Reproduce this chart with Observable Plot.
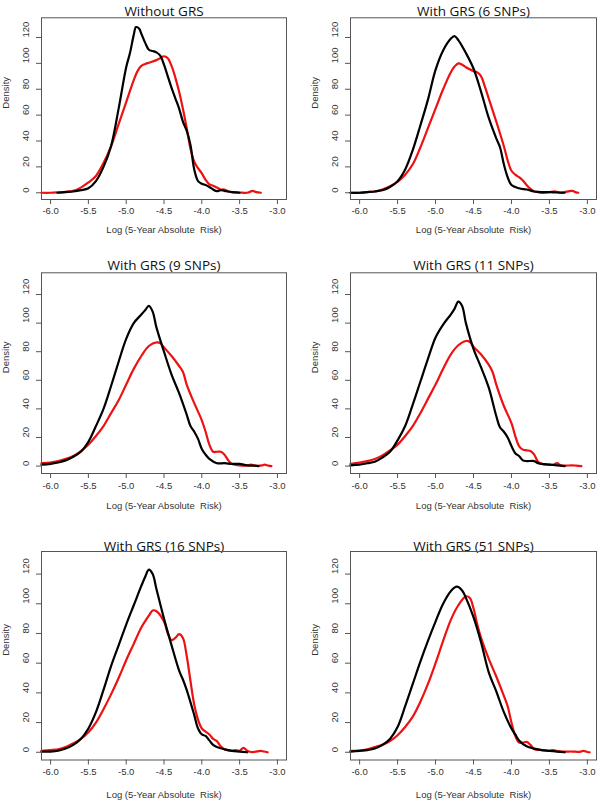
<!DOCTYPE html>
<html>
<head>
<meta charset="utf-8">
<script src="https://cdn.jsdelivr.net/npm/d3@7"></script>
<script src="https://cdn.jsdelivr.net/npm/@observablehq/plot@0.6"></script>
<style>
  html, body { margin: 0; padding: 0; background: #fff; }
  #root { position: relative; width: 600px; height: 802px; background: #fff; overflow: hidden; }
  .panel { position: absolute; }
</style>
</head>
<body>
<div id="root"></div>
<script>
// ---------- Data ----------
const titles = ["Without GRS", "With GRS (6 SNPs)", "With GRS (9 SNPs)", "With GRS (11 SNPs)", "With GRS (16 SNPs)", "With GRS (51 SNPs)"];
const xTicks = [-6.0, -5.5, -5.0, -4.5, -4.0, -3.5, -3.0];
const yTicks = [0, 20, 40, 60, 80, 100, 120];
const xLabel = "Log (5-Year Absolute  Risk)";
const yLabel = "Density";

// Panel 1: Without GRS
const p1BlackX = [-5.91,-5.8,-5.7,-5.6,-5.5,-5.4,-5.3,-5.2,-5.1,-5.0,-4.95,-4.9,-4.87,-4.83,-4.8,-4.75,-4.7,-4.65,-4.6,-4.55,-4.5,-4.45,-4.4,-4.35,-4.3,-4.25,-4.2,-4.15,-4.1,-4.05,-4.0,-3.95,-3.9,-3.85,-3.8,-3.75,-3.7,-3.6,-3.5];
const p1BlackY = [0,0.5,1,2,3.5,9,20,36,65,97,108,122,128,127,123,116,110.5,109.5,108.5,106,99,90,81,73,65,55,48,37,18,9,7,6,4.5,2.5,1.2,2,1.5,0.5,0];
const p1RedX = [-6.12,-6.0,-5.9,-5.8,-5.7,-5.6,-5.5,-5.4,-5.3,-5.2,-5.1,-5.0,-4.9,-4.85,-4.8,-4.75,-4.7,-4.6,-4.55,-4.5,-4.45,-4.4,-4.35,-4.3,-4.25,-4.2,-4.15,-4.1,-4.05,-4.0,-3.95,-3.9,-3.85,-3.8,-3.75,-3.7,-3.65,-3.6,-3.5,-3.4,-3.37,-3.33,-3.28,-3.22];
const p1RedY = [0,0,0.3,0.7,1.5,4,8,13,23,36,53,70,87,94,98,99.5,100.5,102.5,104,105.5,104,98,89,78,65,50,34,24,19,15,10,6.5,5.5,4,2.5,2.5,1,0.5,0.2,0,0.5,1.5,0.5,0];

// Panel 2: With GRS (6 SNPs)
const p2BlackX = [-6.12,-6.0,-5.9,-5.8,-5.7,-5.6,-5.5,-5.4,-5.3,-5.2,-5.1,-5.0,-4.9,-4.8,-4.75,-4.7,-4.6,-4.5,-4.4,-4.3,-4.2,-4.15,-4.1,-4.05,-4.0,-3.9,-3.8,-3.7,-3.6,-3.5,-3.4,-3.3];
const p2BlackY = [0,0,0.5,1,2,4.5,9,18,33,52,72,95,110,119,121,118,108,96,78,58,42,35,22,12,6,3.5,2.5,1,0.5,0.5,0.2,0];
const p2RedX = [-6.12,-6.0,-5.9,-5.8,-5.7,-5.6,-5.5,-5.4,-5.3,-5.2,-5.1,-5.0,-4.9,-4.8,-4.75,-4.7,-4.65,-4.6,-4.5,-4.45,-4.4,-4.35,-4.3,-4.2,-4.1,-4.05,-4.0,-3.95,-3.9,-3.85,-3.8,-3.75,-3.7,-3.65,-3.6,-3.5,-3.45,-3.4,-3.35,-3.3,-3.2,-3.15,-3.12];
const p2RedY = [0,0,0.5,1,2.5,5,8.5,14,22,35,50,65,80,93,97.5,100,99,97,94,93,90,82,73,55,36,25,17,14,12,9.5,6,3,1,0.5,0,0.5,1,0.8,0,0.5,1.5,0.3,0];

// Panel 3: With GRS (9 SNPs)
const p3BlackX = [-6.12,-6.0,-5.9,-5.8,-5.7,-5.6,-5.5,-5.4,-5.3,-5.2,-5.1,-5.0,-4.9,-4.8,-4.75,-4.7,-4.65,-4.6,-4.5,-4.4,-4.3,-4.2,-4.15,-4.1,-4.05,-4.0,-3.95,-3.9,-3.8,-3.7,-3.6,-3.5,-3.4,-3.3,-3.25];
const p3BlackY = [1,1.5,2.5,4,6.5,10,17,28,40,56,73,89,100,106,109,112,108,97,80,64,51,36,28,24,19,12,8,5,2,2,1.5,1.5,0.5,0.3,0];
const p3RedX = [-6.12,-6.0,-5.9,-5.8,-5.7,-5.6,-5.5,-5.4,-5.3,-5.2,-5.1,-5.0,-4.9,-4.8,-4.7,-4.6,-4.55,-4.5,-4.4,-4.3,-4.25,-4.2,-4.1,-4.0,-3.95,-3.9,-3.85,-3.8,-3.75,-3.7,-3.65,-3.6,-3.5,-3.4,-3.35,-3.3,-3.2,-3.17,-3.12,-3.08];
const p3RedY = [2,2.5,3.5,5,7,10.5,15,21,28,37,46,57,68,77,84,86.5,86,83,77,70,66,57,44,32,24,15,10,10,10,8,4,1.5,0.5,0.5,1,0.3,0.5,1,0.3,0];

// Panel 4: With GRS (11 SNPs)
const p4BlackX = [-6.12,-6.0,-5.9,-5.8,-5.7,-5.6,-5.5,-5.4,-5.3,-5.2,-5.1,-5.0,-4.9,-4.8,-4.75,-4.7,-4.65,-4.6,-4.5,-4.4,-4.3,-4.2,-4.15,-4.1,-4.05,-4.0,-3.95,-3.9,-3.85,-3.8,-3.7,-3.65,-3.6,-3.5,-3.4,-3.3];
const p4BlackY = [0.5,1,2,3,6,10,18,28,43,59,75,90,99,106,110,115,112,100,82,69,55,35,27,24,20,14,9,7,4,3.5,3.5,2,1.5,1,0.5,0];
const p4RedX = [-6.12,-6.0,-5.9,-5.8,-5.7,-5.6,-5.5,-5.4,-5.3,-5.2,-5.1,-5.0,-4.9,-4.8,-4.7,-4.6,-4.55,-4.5,-4.4,-4.3,-4.25,-4.2,-4.1,-4.0,-3.95,-3.9,-3.85,-3.8,-3.75,-3.7,-3.65,-3.6,-3.5,-3.45,-3.4,-3.35,-3.3,-3.2,-3.15,-3.08];
const p4RedY = [1.5,2.5,3.5,5,7.5,11,15,21,28,37,47,57,68,78,84.5,87.5,87,83.5,78,71,66,57,42,30,21,14,11.5,11,10.5,8,3,1.5,1,1,2,0.5,0.3,0.5,0.3,0];

// Panel 5: With GRS (16 SNPs)
const p5BlackX = [-6.12,-6.0,-5.9,-5.8,-5.7,-5.6,-5.5,-5.4,-5.3,-5.2,-5.1,-5.0,-4.9,-4.8,-4.75,-4.7,-4.65,-4.6,-4.5,-4.4,-4.3,-4.25,-4.2,-4.1,-4.05,-4.0,-3.95,-3.9,-3.85,-3.8,-3.7,-3.6,-3.5,-3.4];
const p5BlackY = [0.5,0.5,1,2.5,5,9,16,27,42,58,72,86,99,112,118,123,120,110,90,72,55,49,42,25,16,12,11,8,5,3.5,2,1,0.5,0];
const p5RedX = [-6.12,-6.0,-5.9,-5.8,-5.7,-5.6,-5.5,-5.4,-5.3,-5.2,-5.1,-5.0,-4.9,-4.8,-4.7,-4.65,-4.6,-4.5,-4.45,-4.4,-4.35,-4.3,-4.25,-4.2,-4.15,-4.1,-4.05,-4.0,-3.9,-3.85,-3.8,-3.75,-3.7,-3.6,-3.55,-3.5,-3.45,-3.4,-3.35,-3.3,-3.22,-3.18,-3.13];
const p5RedY = [1,1.5,2,3.5,6,9,13.5,20,29,39,50,62,73,84,92,95.5,95,88,80,75.5,77,79.5,77,65,48,32,22,16,12,9,7.5,4,2,1,1.5,1,3,1,0.2,0.3,1,0.5,0];

// Panel 6: With GRS (51 SNPs)
const p6BlackX = [-6.12,-6.0,-5.9,-5.8,-5.7,-5.6,-5.5,-5.4,-5.3,-5.2,-5.1,-5.0,-4.9,-4.8,-4.72,-4.65,-4.6,-4.5,-4.4,-4.3,-4.2,-4.1,-4.0,-3.95,-3.9,-3.8,-3.7,-3.6,-3.5,-3.4,-3.3];
const p6BlackY = [0.5,1,1.5,2.5,5,9,17,31,46,61,75,88,100,108.5,111.5,109,104,91,74,54,41,27,16,12,8,4,2.5,1.5,1,0.5,0];
const p6RedX = [-6.12,-6.0,-5.9,-5.8,-5.7,-5.6,-5.5,-5.4,-5.3,-5.2,-5.1,-5.0,-4.9,-4.8,-4.7,-4.6,-4.55,-4.5,-4.45,-4.4,-4.3,-4.2,-4.1,-4.05,-4.0,-3.95,-3.9,-3.85,-3.8,-3.75,-3.7,-3.6,-3.5,-3.45,-3.4,-3.3,-3.2,-3.1,-3.05,-3.0,-2.97];
const p6RedY = [1,1.2,2,3.5,5,7.5,11.5,17,24,34,46,60,75,89,99,105,104,97,86,77,63,51,38,31,20,11,6.5,6.5,7,5,2,1.5,1,1.5,0.8,0.5,0.5,0.3,1,0.2,0];

const blackX = [p1BlackX, p2BlackX, p3BlackX, p4BlackX, p5BlackX, p6BlackX];
const blackY = [p1BlackY, p2BlackY, p3BlackY, p4BlackY, p5BlackY, p6BlackY];
const redX = [p1RedX, p2RedX, p3RedX, p4RedX, p5RedX, p6RedX];
const redY = [p1RedY, p2RedY, p3RedY, p4RedY, p5RedY, p6RedY];

// ---------- Layout ----------
const rows = [
  {top: 0,   h: 250, mt: 17.3, mb: 51,   titleDy: -11, tickDy: 14.3, labDy: 33},
  {top: 248, h: 280, mt: 24.3, mb: 55,   titleDy: -12, tickDy: 15.5, labDy: 35.5},
  {top: 528, h: 274, mt: 23,   mb: 42.5, titleDy: -10.5, tickDy: 14.8, labDy: 37.5}
];
const cols = [
  {left: 0,   w: 300, ml: 41, mr: 14},
  {left: 300, w: 300, ml: 50, mr: 4}
];

const root = document.getElementById("root");
const tickFont = "'Liberation Sans', Arial, sans-serif";
const titleFont = "'Open Sans', sans-serif";

titles.forEach((title, i) => {
  const r = rows[Math.floor(i / 2)];
  const c = cols[i % 2];
  const black = blackX[i].map((x, j) => ({x, y: blackY[i][j]}));
  const red = redX[i].map((x, j) => ({x, y: redY[i][j]}));
  const chart = Plot.plot({
    width: c.w,
    height: r.h,
    marginTop: r.mt,
    marginBottom: r.mb,
    marginLeft: c.ml,
    marginRight: c.mr,
    x: {domain: [-6.12, -2.88], axis: null},
    y: {domain: [-5.2, 135.2], axis: null},
    style: {background: "transparent", overflow: "visible", fontFamily: tickFont},
    marks: [
      Plot.axisX({ticks: xTicks, tickSize: 5, tickFormat: () => "", label: null, stroke: "#555"}),
      Plot.axisY({ticks: yTicks, tickSize: 5, tickFormat: () => "", label: null, stroke: "#555"}),
      Plot.text(xTicks, {x: d => d, text: d => d.toFixed(1), frameAnchor: "bottom", dy: r.tickDy, fontSize: 9.5, fill: "#333"}),
      Plot.text(yTicks, {y: d => d, text: d => String(d), frameAnchor: "left", dx: -16, rotate: -90, fontSize: 9.5, fill: "#333"}),
      Plot.text([yLabel], {frameAnchor: "left", dx: -36, rotate: -90, fontSize: 9.5, fill: "#333"}),
      Plot.text([xLabel], {frameAnchor: "bottom", dy: r.labDy, fontSize: 9.5, fill: "#333"}),
      Plot.text([title], {frameAnchor: "top", dy: r.titleDy, fontSize: 13.5, fontWeight: 400, fill: "#111", fontFamily: titleFont}),
      Plot.line(red, {x: "x", y: "y", stroke: "#ee1111", strokeWidth: 2.2, curve: "catmull-rom"}),
      Plot.line(black, {x: "x", y: "y", stroke: "#000", strokeWidth: 2.2, curve: "catmull-rom"}),
      Plot.frame({stroke: "#555", strokeWidth: 1})
    ]
  });
  const div = document.createElement("div");
  div.className = "panel";
  div.style.left = c.left + "px";
  div.style.top = r.top + "px";
  div.appendChild(chart);
  root.appendChild(div);
});
</script>
</body>
</html>
